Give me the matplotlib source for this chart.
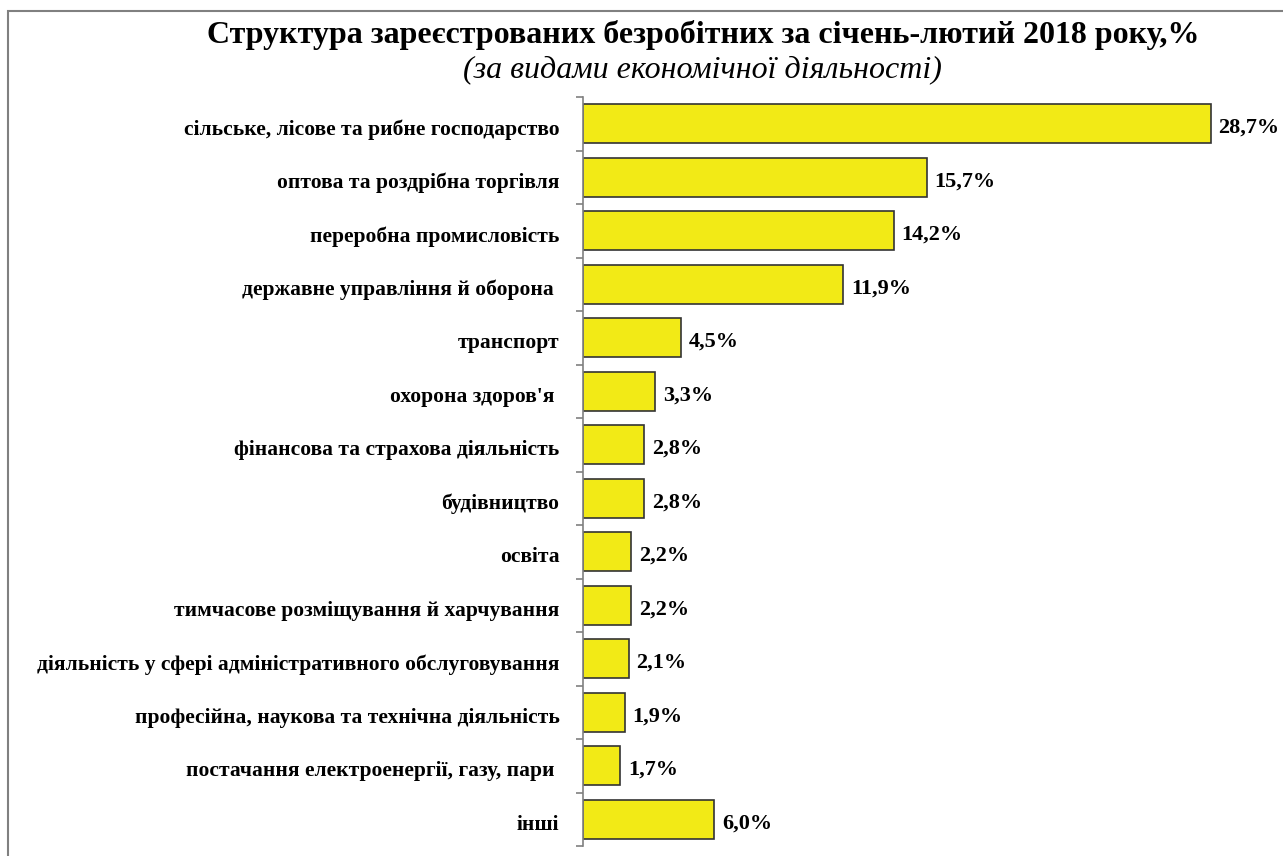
import matplotlib
matplotlib.use("Agg")
import matplotlib.pyplot as plt
from matplotlib.patches import Rectangle
from matplotlib.transforms import ScaledTranslation
import numpy as np

categories = [
    "сільське, лісове та рибне господарство",
    "оптова та роздрібна торгівля",
    "переробна промисловість",
    "державне управління й оборона ",
    "транспорт",
    "охорона здоров'я ",
    "фінансова та страхова діяльність",
    "будівництво",
    "освіта",
    "тимчасове розміщування й харчування",
    "діяльність у сфері адміністративного обслуговування",
    "професійна, наукова та технічна діяльність",
    "постачання електроенергії, газу, пари ",
    "інші",
]
values = [28.7, 15.7, 14.2, 11.9, 4.5, 3.3, 2.8, 2.8, 2.2, 2.2, 2.1, 1.9, 1.7, 6.0]
value_labels = ["28,7%", "15,7%", "14,2%", "11,9%", "4,5%", "3,3%", "2,8%", "2,8%",
                "2,2%", "2,2%", "2,1%", "1,9%", "1,7%", "6,0%"]
title = "Структура зареєстрованих безробітних за січень-лютий 2018 року,%"
subtitle = "(за видами економічної діяльності)"

plt.rcParams['font.family'] = ['Liberation Serif', 'DejaVu Serif']

W, H = 1283, 856
fig = plt.figure(figsize=(W / 100, H / 100), dpi=100)

# outer frame
fig.patches.append(Rectangle((8 / W, -0.1), 1.2, 1 - 11 / H + 0.1, transform=fig.transFigure,
                             fill=False, edgecolor='#808080', linewidth=1.5))

ax = fig.add_axes([583 / W, 10 / H, (30 * 21.88) / W, (846 - 97) / H])
y = np.arange(len(categories))
ax.barh(y, values, height=0.73, color='#F2EA16', edgecolor='#333333', linewidth=1.2)
ax.set_xlim(0, 30)
ax.set_ylim(len(categories) - 0.5, -0.5)

down = ScaledTranslation(0, -4 / 100, fig.dpi_scale_trans)
for yi, v, lab in zip(y, values, value_labels):
    ax.text(v + 0.35, yi, lab, va='center', ha='left', fontsize=16, fontweight='bold',
            transform=ax.transData + down)

for s in ['top', 'right', 'bottom']:
    ax.spines[s].set_visible(False)
ax.spines['left'].set_color('#808080')
ax.spines['left'].set_linewidth(1.2)
ax.set_xticks([])
ax.set_yticks(y)
ax.set_yticklabels(categories, fontsize=15.5, fontweight='bold')
ax.tick_params(axis='y', which='major', length=0, pad=17)
down2 = ScaledTranslation(0, -3 / 100, fig.dpi_scale_trans)
for lbl in ax.get_yticklabels():
    lbl.set_transform(lbl.get_transform() + down2)
ax.set_yticks(np.arange(-0.5, len(categories), 1), minor=True)
ax.tick_params(axis='y', which='minor', length=5, color='#808080', width=1.2)

fig.text(703 / W, 1 - 35 / H, title, ha='center', va='center', fontsize=23, fontweight='bold')
fig.text(702 / W, 1 - 70 / H, subtitle, ha='center', va='center', fontsize=23, style='italic')

fig.savefig("out.png", dpi=100)
